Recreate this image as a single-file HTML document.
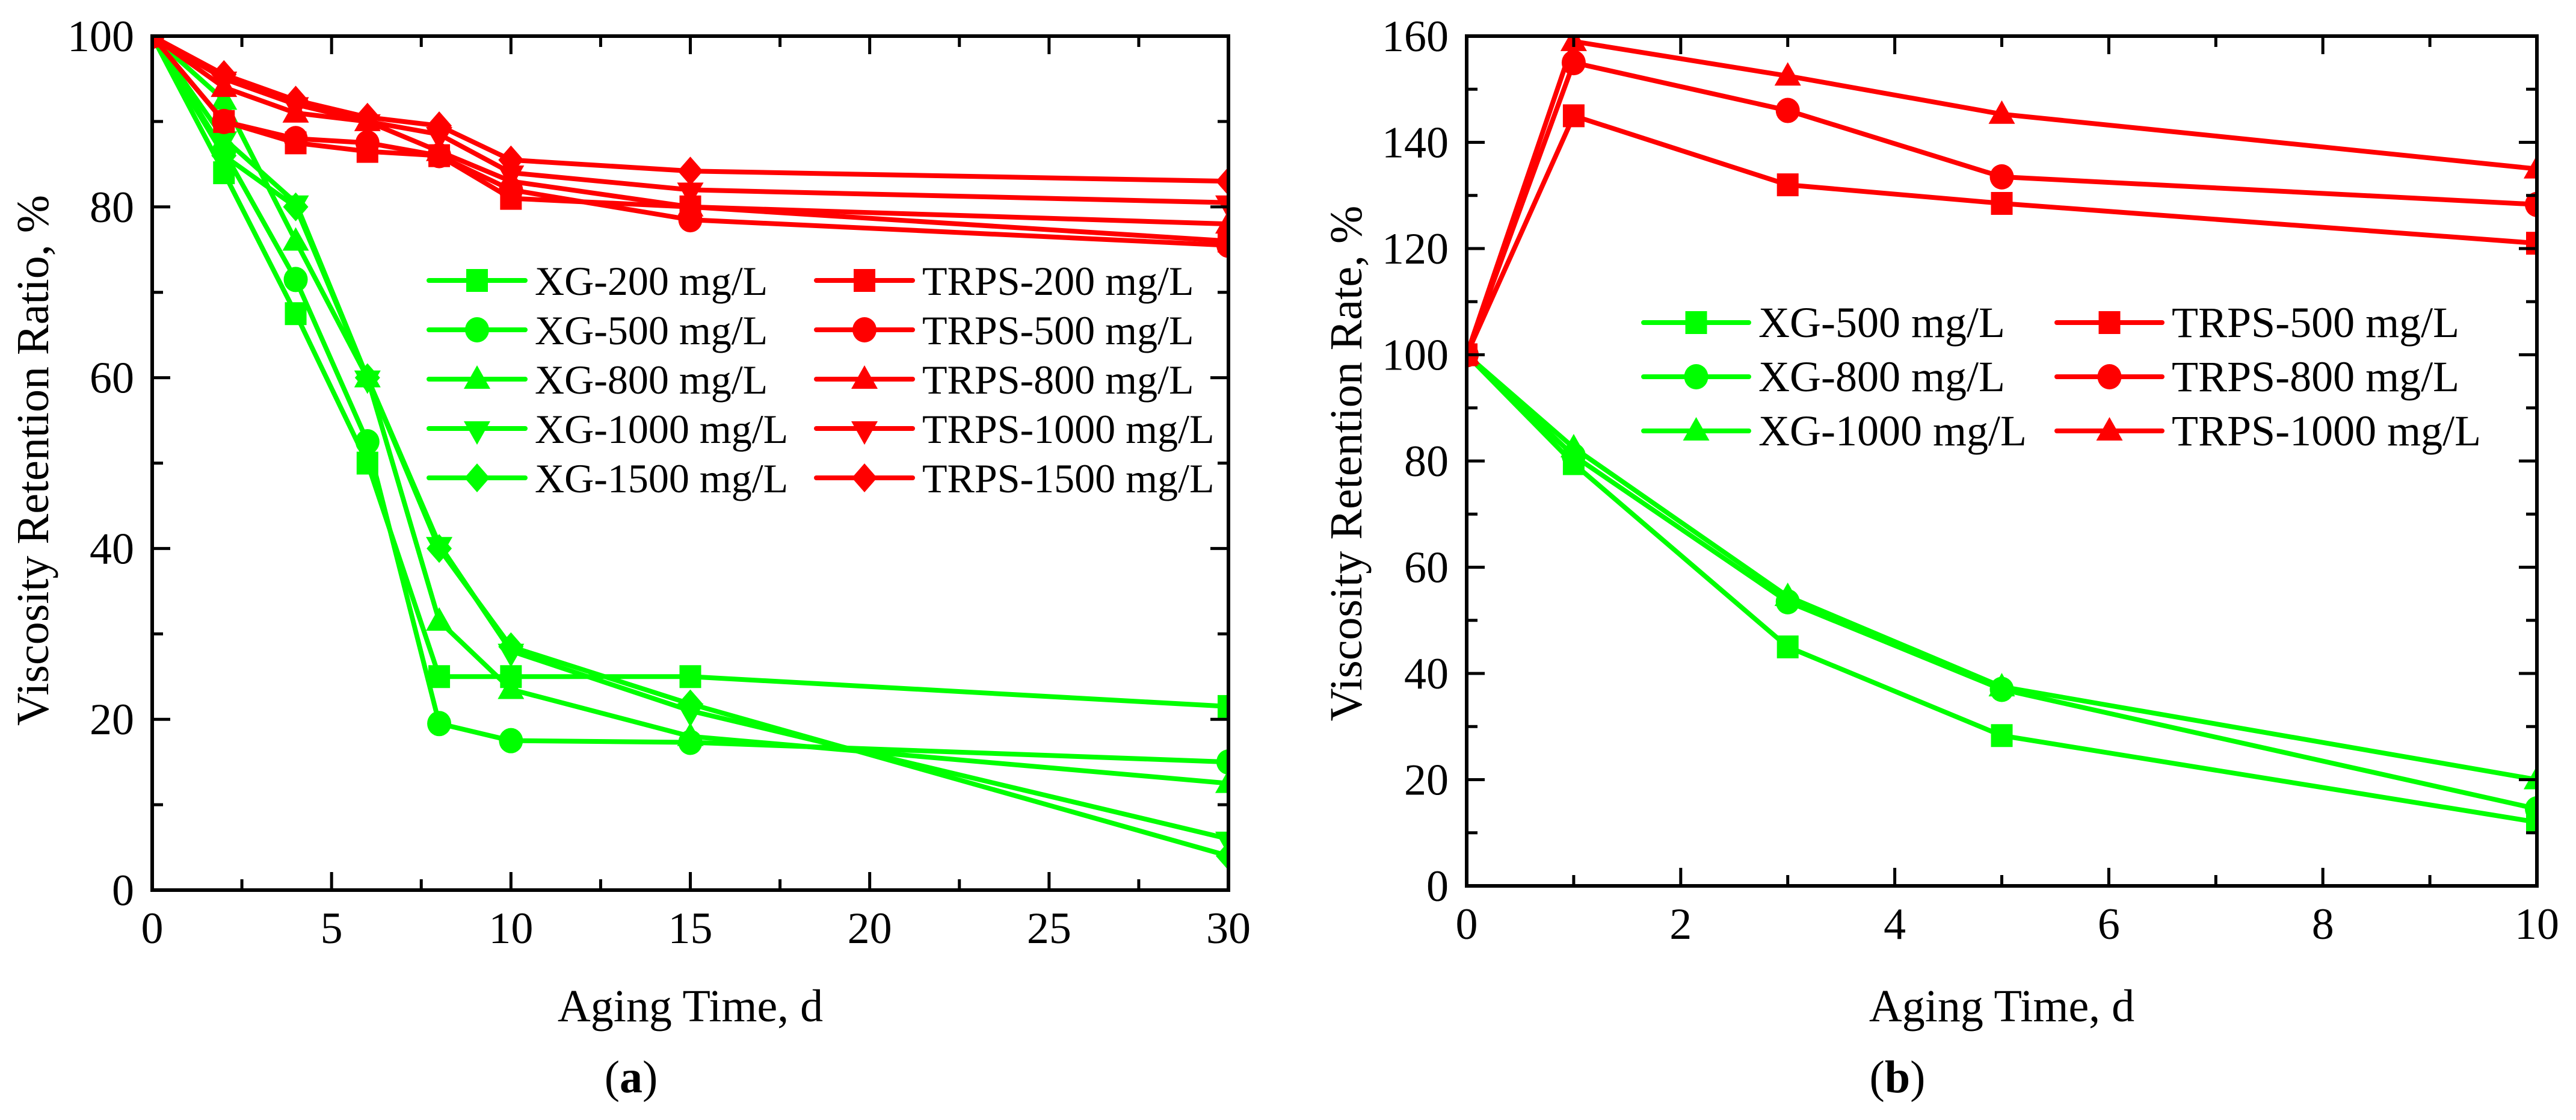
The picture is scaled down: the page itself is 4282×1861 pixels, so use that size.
<!DOCTYPE html>
<html><head><meta charset="utf-8">
<style>
html,body{margin:0;padding:0;background:#fff;}
svg{display:block;font-family:"Liberation Serif",serif;}
</style></head>
<body>
<svg id="fig" width="4282" height="1861" viewBox="0 0 4282 1861" xmlns="http://www.w3.org/2000/svg">
<defs>
<clipPath id="clipA"><rect x="253" y="60" width="1789" height="1419"/></clipPath>
<clipPath id="clipB"><rect x="2438" y="60" width="1779" height="1412"/></clipPath>
</defs>
</svg>
<script>
// ---- Chart (a) data ----
const aDays = [0, 2, 4, 6, 8, 10, 15, 30];
const aXG200 = [100, 84, 67.5, 50, 25, 25, 25, 21.5];
const aXG500 = [100, 86.5, 71.5, 52.5, 19.5, 17.5, 17.3, 15];
const aXG800 = [100, 92.5, 76, 60, 31.5, 23.5, 18, 12.5];
const aXG1000 = [100, 88, 80.5, 60, 40.5, 28, 21, 6];
const aXG1500 = [100, 86, 80, 60, 40, 28.5, 21.8, 4];
const aTRPS200 = [100, 90, 87.5, 86.5, 86, 81, 80, 76];
const aTRPS500 = [100, 90, 88, 87.5, 86, 82, 78.5, 75.5];
const aTRPS800 = [100, 94, 91, 90, 86.5, 83, 80, 78];
const aTRPS1000 = [100, 95, 92, 90, 88.5, 84, 82, 80.5];
const aTRPS1500 = [100, 95.5, 92.5, 90.5, 89.5, 85.5, 84.2, 83];
const aXTicks = [0, 5, 10, 15, 20, 25, 30];
const aYTicks = [0, 20, 40, 60, 80, 100];
// ---- Chart (b) data ----
const bDays = [0, 1, 3, 5, 10];
const bXG500 = [100, 79.5, 45, 28.3, 12];
const bXG800 = [100, 81, 53.5, 37, 14.5];
const bXG1000 = [100, 82.5, 54.5, 37.5, 20];
const bTRPS500 = [100, 145, 132, 128.5, 121];
const bTRPS800 = [100, 155, 146, 133.5, 128.3];
const bTRPS1000 = [100, 159, 152.5, 145.3, 135];
const bXTicks = [0, 2, 4, 6, 8, 10];
const bYTicks = [0, 20, 40, 60, 80, 100, 120, 140, 160];

const NS = "http://www.w3.org/2000/svg";
const svg = document.getElementById('fig');
const GREEN = "#00ff00", RED = "#ff0000";

function mk(tag, attrs, parent) {
  const e = document.createElementNS(NS, tag);
  for (const k in attrs) e.setAttribute(k, attrs[k]);
  (parent || svg).appendChild(e);
  return e;
}

function marker(g, shape, cx, cy, color) {
  let e;
  if (shape === 'square') e = mk('rect', {x: cx - 18, y: cy - 19, width: 36, height: 38, fill: color}, g);
  else if (shape === 'circle') e = mk('ellipse', {cx: cx, cy: cy, rx: 20, ry: 21, fill: color}, g);
  else if (shape === 'up') e = mk('polygon', {points: `${cx},${cy-23} ${cx+22},${cy+16} ${cx-22},${cy+16}`, fill: color}, g);
  else if (shape === 'down') e = mk('polygon', {points: `${cx},${cy+27} ${cx+22},${cy-12} ${cx-22},${cy-12}`, fill: color}, g);
  else e = mk('polygon', {points: `${cx},${cy-24} ${cx+21},${cy} ${cx},${cy+24} ${cx-21},${cy}`, fill: color}, g);
  return e;
}

function chart(cfg) {
  const {L, R, T, B, xmax, ymax, xTicks, yTicks, xMinor, yMinor, clip, days, series, legend, prefix} = cfg;
  const sx = v => L + (v / xmax) * (R - L);
  const sy = v => B - (v / ymax) * (B - T);
  const g = mk('g', {});
  
  
  const sg = mk('g', {'clip-path': `url(#${clip})`}, g);
  series.forEach(s => {
    const sgrp = mk('g', {}, sg);
    
    
    const pts = days.map((d, i) => sx(d) + ',' + sy(s.vals[i])).join(' ');
    const pl = mk('polyline', {points: pts, fill: 'none', stroke: s.color, 'stroke-width': 8, 'stroke-linejoin': 'round'}, sgrp);
    
    
    days.forEach((d, i) => {
      const m = marker(sgrp, s.shape, sx(d), sy(s.vals[i]), s.color);
      
      
    });
  });
  const fr = mk('rect', {x: L, y: T, width: R - L, height: B - T, fill: 'none', stroke: '#000', 'stroke-width': 6}, g);
  
  
  const tg = mk('g', {stroke: '#000', 'stroke-width': 5}, g);
  
  
  for (let v = 0; v <= xmax + 1e-9; v += xMinor) {
    const major = xTicks.some(t => Math.abs(t - v) < 1e-9);
    const len = major ? 30 : 18;
    mk('line', {x1: sx(v), y1: B, x2: sx(v), y2: B - len}, tg);
    mk('line', {x1: sx(v), y1: T, x2: sx(v), y2: T + len}, tg);
  }
  for (let v = 0; v <= ymax + 1e-9; v += yMinor) {
    const major = yTicks.some(t => Math.abs(t - v) < 1e-9);
    const len = major ? 30 : 18;
    mk('line', {x1: L, y1: sy(v), x2: L + len, y2: sy(v)}, tg);
    mk('line', {x1: R, y1: sy(v), x2: R - len, y2: sy(v)}, tg);
  }
  xTicks.forEach(v => {
    const t = mk('text', {x: sx(v), y: B + 88, 'font-size': 74, 'text-anchor': 'middle'}, g);
    t.textContent = v;
    
    
  });
  yTicks.forEach(v => {
    const t = mk('text', {x: L - 30, y: sy(v) + 25, 'font-size': 74, 'text-anchor': 'end'}, g);
    t.textContent = v;
    
    
  });
  const xt = mk('text', {x: (L + R) / 2, y: 1697, 'font-size': 76, 'text-anchor': 'middle'}, g);
  xt.textContent = 'Aging Time, d';
  
  
  const yt = mk('text', {x: 0, y: 0, 'font-size': 76, 'text-anchor': 'middle', transform: `translate(${cfg.ytx},${cfg.yty}) rotate(-90)`}, g);
  yt.textContent = cfg.ytitle;
  
  
  const pl = mk('text', {x: cfg.labX, y: 1815, 'font-size': 76, 'text-anchor': 'middle'}, g);
  pl.innerHTML = '(<tspan font-weight="bold">' + cfg.letter + '</tspan>)';
  
  
  const lg = mk('g', {}, g);
  
  
  series.forEach((s, i) => {
    const col = Math.floor(i / legend.rows);
    const row = i % legend.rows;
    const x0 = legend.colX[col], y = legend.y0 + row * legend.dy;
    const eg = mk('g', {}, lg);
    
    
    mk('line', {x1: x0, y1: y, x2: x0 + legend.lineW, y2: y, stroke: s.color, 'stroke-width': 8, 'stroke-linecap': 'round'}, eg);
    marker(eg, s.shape, x0 + legend.lineW / 2, y, s.color);
    const t = mk('text', {x: x0 + legend.lineW + 16, y: y + 24, 'font-size': legend.fs}, eg);
    t.textContent = s.name;
  });
}

chart({
  prefix: 'a', letter: 'a', L: 253, R: 2042, T: 60, B: 1479, xmax: 30, ymax: 100,
  xTicks: aXTicks, yTicks: aYTicks, xMinor: 2.5, yMinor: 10, clip: 'clipA', days: aDays,
  ytitle: 'Viscosity Retention Ratio, %', ytx: 80, yty: 765, labX: 1049,
  legend: {rows: 5, colX: [713, 1357], y0: 466, dy: 82, lineW: 160, fs: 68},
  series: [
    {name: 'XG-200 mg/L', vals: aXG200, color: GREEN, shape: 'square'},
    {name: 'XG-500 mg/L', vals: aXG500, color: GREEN, shape: 'circle'},
    {name: 'XG-800 mg/L', vals: aXG800, color: GREEN, shape: 'up'},
    {name: 'XG-1000 mg/L', vals: aXG1000, color: GREEN, shape: 'down'},
    {name: 'XG-1500 mg/L', vals: aXG1500, color: GREEN, shape: 'diamond'},
    {name: 'TRPS-200 mg/L', vals: aTRPS200, color: RED, shape: 'square'},
    {name: 'TRPS-500 mg/L', vals: aTRPS500, color: RED, shape: 'circle'},
    {name: 'TRPS-800 mg/L', vals: aTRPS800, color: RED, shape: 'up'},
    {name: 'TRPS-1000 mg/L', vals: aTRPS1000, color: RED, shape: 'down'},
    {name: 'TRPS-1500 mg/L', vals: aTRPS1500, color: RED, shape: 'diamond'}
  ]
});

chart({
  prefix: 'b', letter: 'b', L: 2438, R: 4217, T: 60, B: 1472, xmax: 10, ymax: 160,
  xTicks: bXTicks, yTicks: bYTicks, xMinor: 1, yMinor: 10, clip: 'clipB', days: bDays,
  ytitle: 'Viscosity Retention Rate, %', ytx: 2263, yty: 770, labX: 3154,
  legend: {rows: 3, colX: [2732, 3419], y0: 536, dy: 90, lineW: 175, fs: 72},
  series: [
    {name: 'XG-500 mg/L', vals: bXG500, color: GREEN, shape: 'square'},
    {name: 'XG-800 mg/L', vals: bXG800, color: GREEN, shape: 'circle'},
    {name: 'XG-1000 mg/L', vals: bXG1000, color: GREEN, shape: 'up'},
    {name: 'TRPS-500 mg/L', vals: bTRPS500, color: RED, shape: 'square'},
    {name: 'TRPS-800 mg/L', vals: bTRPS800, color: RED, shape: 'circle'},
    {name: 'TRPS-1000 mg/L', vals: bTRPS1000, color: RED, shape: 'up'}
  ]
});
</script>
</body></html>
